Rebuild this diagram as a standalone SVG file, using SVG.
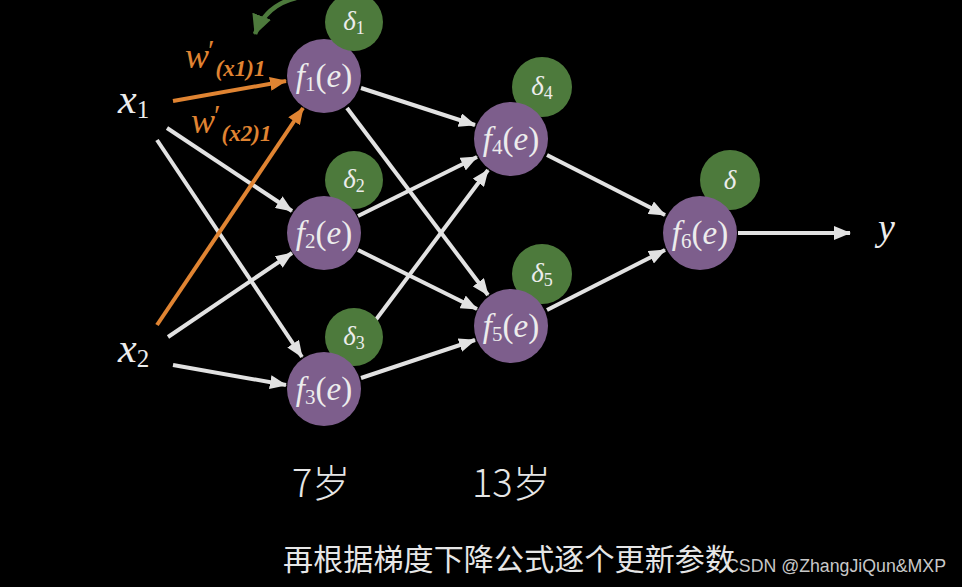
<svg xmlns="http://www.w3.org/2000/svg" width="962" height="587" viewBox="0 0 962 587">
<style>
.bg{fill:#000}
.w{stroke:#e2e2e2;stroke-width:4;fill:none}
.o{stroke:#e08432;stroke-width:4;fill:none}
.f{fill:#7d5e8c}
.d{fill:#4d7a3c}
text.m{fill:#ececec}
.fl{font-size:33px}
.dl{font-size:27px}
text.ow{fill:#e08432}
.cj{font-family:"Noto Sans CJK SC",sans-serif;fill:#e6e6e6}
</style>
<defs>
<marker id="aw" markerUnits="userSpaceOnUse" markerWidth="18" markerHeight="14" refX="16" refY="7" orient="auto"><path d="M0,0 L17,7 L0,14 Z" fill="#e2e2e2"/></marker>
<marker id="ao" markerUnits="userSpaceOnUse" markerWidth="18" markerHeight="14" refX="16" refY="7" orient="auto"><path d="M0,0 L17,7 L0,14 Z" fill="#e08432"/></marker>
<marker id="ag" markerUnits="userSpaceOnUse" markerWidth="22" markerHeight="20" refX="19" refY="10" orient="auto"><path d="M0,0 L20,10 L0,20 Z" fill="#4d7a3c"/></marker>
</defs>
<rect class="bg" x="0" y="0" width="962" height="587"/>

<g id="connectors">
<line class="w" x1="167" y1="128" x2="292" y2="211" marker-end="url(#aw)"/>
<line class="w" x1="157" y1="140" x2="302" y2="357" marker-end="url(#aw)"/>
<line class="w" x1="168" y1="337" x2="292" y2="253" marker-end="url(#aw)"/>
<line class="w" x1="173" y1="365" x2="286" y2="385" marker-end="url(#aw)"/>
<line class="w" x1="361" y1="88" x2="475" y2="125" marker-end="url(#aw)"/>
<line class="w" x1="347" y1="108" x2="488" y2="295" marker-end="url(#aw)"/>
<line class="w" x1="358" y1="216" x2="477" y2="157" marker-end="url(#aw)"/>
<line class="w" x1="358" y1="250" x2="477" y2="309" marker-end="url(#aw)"/>
<line class="w" x1="345" y1="361" x2="488" y2="170" marker-end="url(#aw)"/>
<line class="w" x1="361" y1="378" x2="475" y2="340" marker-end="url(#aw)"/>
<line class="w" x1="547" y1="155" x2="665" y2="215" marker-end="url(#aw)"/>
<line class="w" x1="547" y1="310" x2="665" y2="250" marker-end="url(#aw)"/>
<line class="w" x1="738" y1="233" x2="850" y2="233" marker-end="url(#aw)"/>
<line class="o" x1="173" y1="101" x2="286" y2="81" marker-end="url(#ao)"/>
<line class="o" x1="157" y1="325" x2="303" y2="108" marker-end="url(#ao)"/>
<path d="M296,-2 Q266,5 255,34" stroke="#4d7a3c" stroke-width="4.5" fill="none" marker-end="url(#ag)"/>
</g>

<g id="x1"><text class="m" font-family="'Liberation Serif','Times New Roman',serif" x="118" y="113" font-size="42" font-style="italic">x<tspan font-size="25" font-style="normal" dy="5">1</tspan></text></g>
<g id="x2"><text class="m" font-family="'Liberation Serif','Times New Roman',serif" x="118" y="362" font-size="42" font-style="italic">x<tspan font-size="25" font-style="normal" dy="5">2</tspan></text></g>
<g id="y"><text class="m" font-family="'Liberation Serif','Times New Roman',serif" x="878" y="240" font-size="38" font-style="italic">y</text></g>

<g id="w1"><text class="ow" font-family="'Liberation Serif','Times New Roman',serif" x="185" y="68" font-size="36" font-style="italic">w<tspan font-style="normal" font-size="30" dy="-8" dx="-1">′</tspan><tspan font-size="23" font-weight="bold" dy="16" dx="1">(<tspan font-style="italic">x</tspan>1)1</tspan></text></g>
<g id="w2"><text class="ow" font-family="'Liberation Serif','Times New Roman',serif" x="191" y="133" font-size="36" font-style="italic">w<tspan font-style="normal" font-size="30" dy="-8" dx="-1">′</tspan><tspan font-size="23" font-weight="bold" dy="16" dx="1">(<tspan font-style="italic">x</tspan>2)1</tspan></text></g>

<g id="f1"><circle class="f" cx="324" cy="76" r="37"/><circle class="d" cx="354" cy="22" r="29"/><text class="m fl" font-family="'Liberation Serif','Times New Roman',serif" x="324" y="87" text-anchor="middle"><tspan font-style="italic">f</tspan><tspan font-size="21" dy="4">1</tspan><tspan dy="-4">(</tspan><tspan font-style="italic">e</tspan>)</text><text class="m dl" font-family="'Liberation Serif','Times New Roman',serif" x="354" y="30" text-anchor="middle"><tspan font-style="italic">δ</tspan><tspan font-size="18" dy="4">1</tspan></text></g>

<g id="f2"><circle class="d" cx="354" cy="180" r="29"/><circle class="f" cx="324" cy="233" r="37"/><text class="m fl" font-family="'Liberation Serif','Times New Roman',serif" x="324" y="244" text-anchor="middle"><tspan font-style="italic">f</tspan><tspan font-size="21" dy="4">2</tspan><tspan dy="-4">(</tspan><tspan font-style="italic">e</tspan>)</text><text class="m dl" font-family="'Liberation Serif','Times New Roman',serif" x="354" y="188" text-anchor="middle"><tspan font-style="italic">δ</tspan><tspan font-size="18" dy="4">2</tspan></text></g>

<g id="f3"><circle class="d" cx="354" cy="337" r="29"/><circle class="f" cx="324" cy="389" r="37"/><text class="m fl" font-family="'Liberation Serif','Times New Roman',serif" x="324" y="400" text-anchor="middle"><tspan font-style="italic">f</tspan><tspan font-size="21" dy="4">3</tspan><tspan dy="-4">(</tspan><tspan font-style="italic">e</tspan>)</text><text class="m dl" font-family="'Liberation Serif','Times New Roman',serif" x="354" y="345" text-anchor="middle"><tspan font-style="italic">δ</tspan><tspan font-size="18" dy="4">3</tspan></text></g>

<g id="f4"><circle class="d" cx="542" cy="87" r="30"/><circle class="f" cx="511" cy="139" r="37"/><text class="m fl" font-family="'Liberation Serif','Times New Roman',serif" x="511" y="150" text-anchor="middle"><tspan font-style="italic">f</tspan><tspan font-size="21" dy="4">4</tspan><tspan dy="-4">(</tspan><tspan font-style="italic">e</tspan>)</text><text class="m dl" font-family="'Liberation Serif','Times New Roman',serif" x="542" y="95" text-anchor="middle"><tspan font-style="italic">δ</tspan><tspan font-size="18" dy="4">4</tspan></text></g>

<g id="f5"><circle class="d" cx="542" cy="274" r="30"/><circle class="f" cx="511" cy="326" r="37"/><text class="m fl" font-family="'Liberation Serif','Times New Roman',serif" x="511" y="337" text-anchor="middle"><tspan font-style="italic">f</tspan><tspan font-size="21" dy="4">5</tspan><tspan dy="-4">(</tspan><tspan font-style="italic">e</tspan>)</text><text class="m dl" font-family="'Liberation Serif','Times New Roman',serif" x="542" y="282" text-anchor="middle"><tspan font-style="italic">δ</tspan><tspan font-size="18" dy="4">5</tspan></text></g>

<g id="f6"><circle class="d" cx="730" cy="180" r="30"/><circle class="f" cx="700" cy="233" r="37"/><text class="m fl" font-family="'Liberation Serif','Times New Roman',serif" x="700" y="244" text-anchor="middle"><tspan font-style="italic">f</tspan><tspan font-size="21" dy="4">6</tspan><tspan dy="-4">(</tspan><tspan font-style="italic">e</tspan>)</text><text class="m dl" font-family="'Liberation Serif','Times New Roman',serif" x="730" y="189" text-anchor="middle" font-style="italic">δ</text></g>

<g id="labels">
<text class="cj" x="292" y="497" font-size="38" font-weight="300">7岁</text>
<text class="cj" x="472" y="497" font-size="38" font-weight="300">13岁</text>
<text x="726" y="572" font-family="'Liberation Sans',sans-serif" font-size="18" fill="#c8c8c8" textLength="220" lengthAdjust="spacingAndGlyphs">CSDN @ZhangJiQun&amp;MXP</text>
<text class="cj" x="283" y="570" font-size="30" textLength="452">再根据梯度下降公式逐个更新参数</text>
</g>
</svg>
